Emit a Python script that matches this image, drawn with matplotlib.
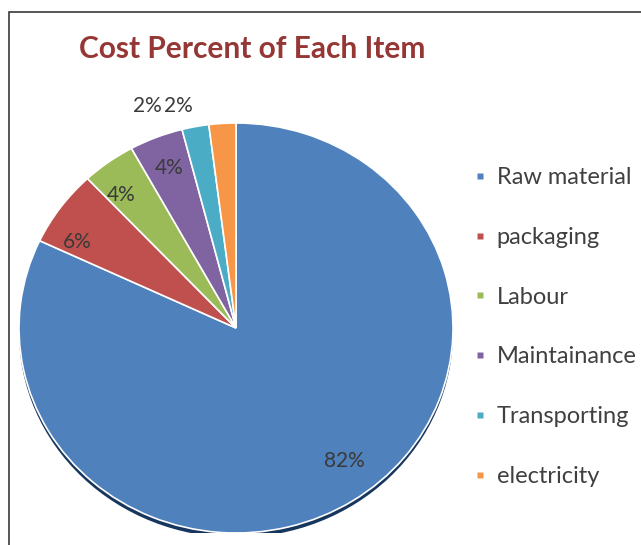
import matplotlib.pyplot as plt
from matplotlib.lines import Line2D
from matplotlib.patches import Ellipse, Rectangle

items = ["Raw material", "packaging", "Labour", "Maintainance", "Transporting", "electricity"]
cost_percent = [82, 6, 4, 4, 2, 2]
colors = ["#4F81BD", "#C0504D", "#9BBB59", "#8064A2", "#4BACC6", "#F79646"]

W, H = 641, 545
fig = plt.figure(figsize=(W / 100, H / 100), dpi=100)

# chart frame (only left and top edges fall inside the image)
fig.patches.append(Rectangle((9 / W, -0.1), 1.2, 1.1 - 12 / H, transform=fig.transFigure,
                             fill=False, edgecolor="#3a3a3a", lw=1.2))

fig.text(252 / W, 1 - 49 / H, "Cost Percent of Each Item", ha="center", va="center",
         fontsize=21.5, fontweight="bold", color="#953735", family="Lato")

# pie axes sized in pixels so the pie comes out slightly wider than tall
cx, cy, rx, ry = 236, 328, 217, 205
ax = fig.add_axes([(cx - rx) / W, 1 - (cy + ry) / H, 2 * rx / W, 2 * ry / H])

# dark rim under the pie
ax.add_patch(Ellipse((0, -0.022), 2.0, 2.0, facecolor="#17365D", edgecolor="none", zorder=0))

wedges, texts, autotexts = ax.pie(
    cost_percent, colors=colors, startangle=90, counterclock=False,
    autopct="%d%%", pctdistance=0.84, radius=1.0,
    wedgeprops=dict(edgecolor="white", linewidth=1.2),
    textprops=dict(fontsize=15, color="#3a3a3a", family="Lato"),
)
ax.set_aspect("auto")
ax.set_xlim(-1, 1)
ax.set_ylim(-1, 1)
ax.axis("off")

# nudge labels; the two small slices get theirs above the pie
autotexts[0].set_position((0.50, -0.65))
autotexts[1].set_position((-0.73, 0.42))
autotexts[2].set_position((-0.53, 0.65))
autotexts[4].set_position((-0.41, 1.085))
autotexts[5].set_position((-0.265, 1.085))

handles = [Line2D([], [], marker="s", linestyle="none", markersize=5,
                  markerfacecolor=c, markeredgecolor="none") for c in colors]
fig.legend(handles, items, loc="upper left", bbox_to_anchor=(452 / W, 1 - 146 / H),
           frameon=False, handlelength=0.6, handletextpad=0.4, labelspacing=1.64,
           prop=dict(family="Lato", size=17), labelcolor="#404040")

fig.savefig("out.png", dpi=100)
